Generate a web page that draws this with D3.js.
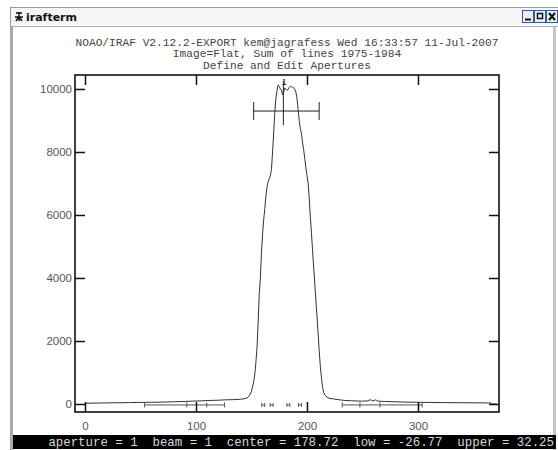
<!DOCTYPE html>
<html>
<head>
<meta charset="utf-8">
<script src="https://cdn.jsdelivr.net/npm/d3@7/dist/d3.min.js"></script>
<style>
  html, body { margin: 0; padding: 0; background: #ffffff; }
  svg { display: block; }
</style>
</head>
<body>
<script>
// ---- Data: aperture profile summed over lines 1975-1984 ----
const columns = [1, 10, 20, 30, 40, 50, 60, 70, 80, 90, 95, 100, 105, 110, 115, 120, 125, 130, 135, 140, 143, 146, 148, 150, 152, 153.5, 155, 156,
  157, 158, 159, 160, 161, 162, 163, 164, 165, 166, 167, 168, 169, 170, 171, 172, 173, 174, 175, 176, 177, 178, 179, 180,
  181, 182, 183, 184, 185, 186, 187, 188, 189, 190, 191, 192, 193, 194, 195, 196, 197, 198, 199, 200,
  201, 202, 203, 204, 205, 206, 207, 208, 209, 210, 211, 212, 213, 214, 215, 216, 218, 220, 224, 230, 235, 240,
  245, 250, 255, 257, 259, 262, 264, 270, 280, 290, 300, 320, 340, 360, 366, 367, 371];
const counts = [25, 30, 35, 40, 45, 50, 55, 60, 70, 80, 90, 95, 100, 110, 115, 120, 130, 135, 140, 150, 165, 190, 260, 400, 700, 1100, 1800, 2600,
  3500, 4000, 4800, 5400, 5850, 6200, 6600, 6900, 7050, 7150, 7250, 7450, 8000, 8600, 9250, 9700, 9950, 10130, 10080, 10000, 9960, 9820, 9900, 10030,
  10000, 9960, 9980, 10050, 10090, 10070, 10060, 10040, 9990, 9900, 9700, 9350, 9000, 8750, 8600, 8300, 8070, 7800, 7500, 7250,
  7020, 6550, 5950, 5450, 4900, 4350, 3850, 3300, 2800, 2250, 1700, 1200, 850, 550, 380, 290, 220, 180, 160, 130, 110, 105,
  95, 90, 100, 140, 95, 130, 90, 80, 70, 60, 55, 45, 40, 35, 30, 0, 0];

// Axis ticks
const xTicks = [0, 100, 200, 300];
const yTicks = [0, 2000, 4000, 6000, 8000, 10000];

// Aperture definition
const apNumber = 1;
const apBeam = 1;
const apCenter = 178.72;
const apLow = -26.77;
const apUpper = 32.25;
const apLevel = 9300;            // height of the aperture bar
// Background sample regions (relative to the center) and marker ticks
const bgRegions = [[-125, -53], [53, 125]];
const bgTicks = [-125, -87, -69, -53, 53, 69, 87, 125];
const sampleMarks = [160.6, 168.2, 183.2, 193.7];

// Header text
const titleLines = [
  "NOAO/IRAF V2.12.2-EXPORT kem@jagrafess Wed 16:33:57 11-Jul-2007",
  "Image=Flat, Sum of lines 1975-1984",
  "Define and Edit Apertures"
];
const windowTitle = "irafterm";

// ---- Layout ----
const W = 558, H = 450;
const frame = { left: 75, right: 499, top: 75, bottom: 412 };

const svg = d3.select("body").append("svg")
  .attr("width", W).attr("height", H);

// Window chrome
svg.append("rect").attr("x", 0).attr("y", 0).attr("width", W).attr("height", H).attr("fill", "#ffffff");
svg.append("rect").attr("x", 10.5).attr("y", 7.5).attr("width", 560).attr("height", 460)
  .attr("fill", "#ffffff").attr("stroke", "#9a9a9a").attr("stroke-width", 1);
svg.append("rect").attr("x", 11).attr("y", 8).attr("width", 548).attr("height", 18).attr("fill", "#f6f6f6");
svg.append("line").attr("x1", 11).attr("x2", W).attr("y1", 26.5).attr("y2", 26.5).attr("stroke", "#b0b0b0");
svg.append("rect").attr("x", 10).attr("y", 27).attr("width", 3).attr("height", H - 27).attr("fill", "#a8a8a8");
svg.append("rect").attr("x", 553).attr("y", 27).attr("width", 3).attr("height", H - 27).attr("fill", "#c8c8c8");

// Window icon and title
const icon = svg.append("g").attr("transform", "translate(19,17)").attr("stroke", "#111").attr("stroke-width", 1.4).attr("fill", "none");
icon.append("path").attr("d", "M-3,-4 L3,-4 M0,-5 L0,4 M-4,0 L4,0 M-3,4 L-1,1 M3,4 L1,1");
svg.append("text").attr("x", 26).attr("y", 21).text(windowTitle)
  .attr("font-family", "Verdana, 'DejaVu Sans', sans-serif").attr("font-weight", "bold")
  .attr("font-size", 11).attr("fill", "#111");

// Window buttons
const btnX = [522, 534, 546];
btnX.forEach((bx, i) => {
  const g = svg.append("g").attr("transform", `translate(${bx},10)`);
  g.append("rect").attr("x", 0.5).attr("y", 0.5).attr("width", 11).attr("height", 12)
    .attr("fill", "#e8eef8").attr("stroke", "#3a5a8a");
  if (i === 0) g.append("line").attr("x1", 3).attr("x2", 9).attr("y1", 9.5).attr("y2", 9.5).attr("stroke", "#111").attr("stroke-width", 2);
  if (i === 1) g.append("rect").attr("x", 3.5).attr("y", 3.5).attr("width", 5).attr("height", 5).attr("fill", "none").attr("stroke", "#111").attr("stroke-width", 1.5);
  if (i === 2) g.append("path").attr("d", "M3,3 L9,10 M9,3 L3,10").attr("stroke", "#111").attr("stroke-width", 2);
});

// Header lines
titleLines.forEach((t, i) => {
  svg.append("text").attr("x", 287).attr("y", 45.5 + i * 11.7)
    .attr("text-anchor", "middle")
    .attr("font-family", "'Liberation Mono', 'DejaVu Sans Mono', monospace")
    .attr("font-size", 11.2).attr("fill", "#444")
    .text(t);
});

// ---- Scales ----
const x = d3.scaleLinear().domain([-9, 373]).range([frame.left, frame.right]);
const y = d3.scaleLinear().domain([-254, 10444]).range([frame.bottom, frame.top]);

const plot = svg.append("g");

// Profile
const profile = columns.map((c, i) => [c, counts[i]]);
plot.append("path").datum(profile)
  .attr("fill", "none").attr("stroke", "#333").attr("stroke-width", 1)
  .attr("d", d3.line().x(d => x(d[0])).y(d => y(d[1])));

// Background sample regions
const bgY = y(-30);
bgRegions.forEach(r => {
  plot.append("line").attr("x1", x(apCenter + r[0])).attr("x2", x(apCenter + r[1]))
    .attr("y1", bgY).attr("y2", bgY).attr("stroke", "#555").attr("stroke-width", 1);
});
bgTicks.forEach(t => {
  plot.append("line").attr("x1", x(apCenter + t)).attr("x2", x(apCenter + t))
    .attr("y1", bgY - 2.5).attr("y2", bgY + 2.5).attr("stroke", "#555").attr("stroke-width", 1);
});
sampleMarks.forEach(s => {
  const sx = x(s);
  plot.append("path").attr("d", `M${sx - 1.5},${bgY - 2} L${sx - 1.5},${bgY + 2} M${sx - 1.5},${bgY} L${sx + 1.5},${bgY} M${sx + 1.5},${bgY - 2} L${sx + 1.5},${bgY + 2}`)
    .attr("stroke", "#555").attr("stroke-width", 1).attr("fill", "none");
});

// Aperture marker
const apY = y(apLevel);
plot.append("line").attr("x1", x(apCenter + apLow)).attr("x2", x(apCenter + apUpper))
  .attr("y1", apY).attr("y2", apY).attr("stroke", "#222").attr("stroke-width", 1);
[apLow, apUpper].forEach(v => {
  plot.append("line").attr("x1", x(apCenter + v)).attr("x2", x(apCenter + v))
    .attr("y1", apY - 9).attr("y2", apY + 9).attr("stroke", "#222").attr("stroke-width", 1);
});
plot.append("line").attr("x1", x(apCenter)).attr("x2", x(apCenter))
  .attr("y1", y(10250)).attr("y2", y(8850)).attr("stroke", "#222").attr("stroke-width", 1);
plot.append("text").attr("x", x(apCenter) + 1).attr("y", y(10250) + 4)
  .attr("text-anchor", "middle").attr("font-family", "'Liberation Sans', sans-serif")
  .attr("font-size", 9).attr("fill", "#222").text(apNumber);

// ---- Frame and axes ----
const axisColor = "#111";
svg.append("rect").attr("x", frame.left).attr("y", frame.top)
  .attr("width", frame.right - frame.left).attr("height", frame.bottom - frame.top)
  .attr("fill", "none").attr("stroke", axisColor).attr("stroke-width", 1.6);

const tickLen = 10;
const tickFont = "'Liberation Sans', Arial, sans-serif";

// Bottom and top axes
const xb = svg.append("g").attr("transform", `translate(0,${frame.bottom})`)
  .call(d3.axisBottom(x).tickValues(xTicks).tickSizeInner(-tickLen).tickSizeOuter(0).tickPadding(10).tickFormat(d3.format("d")));
const xt = svg.append("g").attr("transform", `translate(0,${frame.top})`)
  .call(d3.axisTop(x).tickValues(xTicks).tickSizeInner(-tickLen).tickSizeOuter(0).tickFormat(""));
// Left and right axes
const yl = svg.append("g").attr("transform", `translate(${frame.left},0)`)
  .call(d3.axisLeft(y).tickValues(yTicks).tickSizeInner(-tickLen).tickSizeOuter(0).tickPadding(3).tickFormat(d3.format("d")));
const yr = svg.append("g").attr("transform", `translate(${frame.right},0)`)
  .call(d3.axisRight(y).tickValues(yTicks).tickSizeInner(-tickLen).tickSizeOuter(0).tickFormat(""));

[xb, xt, yl, yr].forEach(g => {
  g.select(".domain").remove();
  g.selectAll(".tick line").attr("stroke", axisColor).attr("stroke-width", 1.5);
  g.selectAll(".tick text").attr("font-family", tickFont).attr("font-size", 11.5).attr("fill", "#555");
});

// ---- Status line ----
svg.append("rect").attr("x", 13).attr("y", 435).attr("width", 543).attr("height", 14).attr("fill", "#000");
const status = `aperture = ${apNumber}  beam = ${apBeam}  center = ${apCenter.toFixed(2)}  low = ${apLow.toFixed(2)}  upper = ${apUpper.toFixed(2)}`;
svg.append("text").attr("x", 554).attr("y", 446).attr("text-anchor", "end")
  .attr("font-family", "'Liberation Mono', 'DejaVu Sans Mono', monospace")
  .attr("font-size", 12.4).attr("fill", "#d8d8d8")
  .attr("xml:space", "preserve").style("white-space", "pre")
  .text(status);
</script>
</body>
</html>
